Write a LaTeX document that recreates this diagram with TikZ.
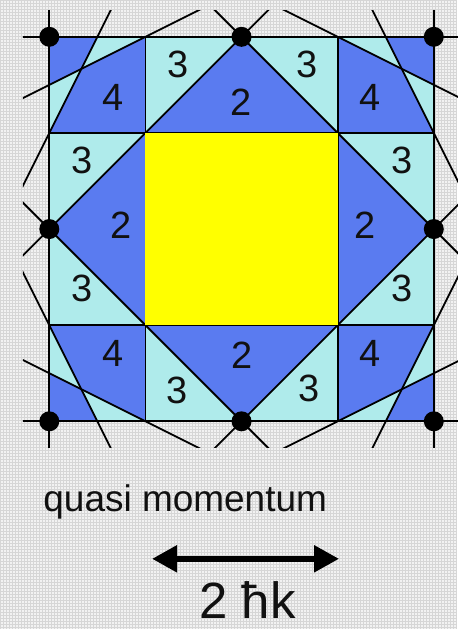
\documentclass[tikz,border=0pt]{standalone}
\usepackage{fontspec}
\setmainfont{Liberation Sans}
\usetikzlibrary{arrows.meta}
\definecolor{zblue}{RGB}{90,123,240}
\definecolor{zcyan}{RGB}{175,235,235}
\definecolor{zyellow}{RGB}{255,255,0}
\definecolor{bgfill}{RGB}{242,242,242}
\definecolor{bggrid}{RGB}{214,214,214}
\definecolor{txt}{RGB}{17,17,17}
\begin{document}
\begin{tikzpicture}[x=1pt,y=-1pt,
  lbl/.style={font=\fontsize{38}{40}\selectfont, inner sep=0pt, text=txt},
  zline/.style={line width=1.8pt, black},
  zdot/.style={fill=black}]
\fill[bgfill] (0,0) rectangle (457,629);
\draw[bggrid, line width=0.5pt] (0,0) grid[step=3pt] (457,629);
\useasboundingbox (0,0) rectangle (457,629);

\begin{scope}[shift={(241.5pt,-229pt)}, x=96.2pt, y=96.2pt]
  \fill[zblue] (-2,-2) rectangle (2,2);
  \fill[zcyan] (-1,-2) rectangle (1,2);
  \fill[zcyan] (-2,-1) rectangle (2,1);
  \fill[zblue] (-2,0) -- (0,2) -- (2,0) -- (0,-2) -- cycle;
  \foreach \sx/\sy in {-1/-1,-1/1,1/-1,1/1}{
    \fill[zcyan] ({2*\sx},{\sy}) -- ({2*\sx},{1.5*\sy}) -- ({5/3*\sx},{5/3*\sy}) -- cycle;
    \fill[zcyan] ({1.5*\sx},{2*\sy}) -- ({\sx},{2*\sy}) -- ({5/3*\sx},{5/3*\sy}) -- cycle;
  }
  \draw[zline] (-1,-2) -- (-1,2);
  \draw[zline] (1,-2) -- (1,2);
  \draw[zline] (-2,-1) -- (2,-1);
  \draw[zline] (-2,1) -- (2,1);
  \begin{scope}
    \clip (-2.275,-2.275) rectangle (2.3,2.275);
    \draw[zline] (-2,-3) -- (-2,3);
    \draw[zline] (2,-3) -- (2,3);
    \draw[zline] (-3,-2) -- (3,-2);
    \draw[zline] (-3,2) -- (3,2);
    \draw[zline] (-3,-1) -- (1,3);
    \draw[zline] (-1,-3) -- (3,1);
    \draw[zline] (-1,3) -- (3,-1);
    \draw[zline] (-3,1) -- (1,-3);
    \draw[zline] (-2.5,0) -- (-1,3);
    \draw[zline] (2.5,0) -- (1,3);
    \draw[zline] (-2.5,0) -- (-1,-3);
    \draw[zline] (2.5,0) -- (1,-3);
    \draw[zline] (0,2.5) -- (-3,1);
    \draw[zline] (0,2.5) -- (3,1);
    \draw[zline] (0,-2.5) -- (-3,-1);
    \draw[zline] (0,-2.5) -- (3,-1);
  \end{scope}
  \fill[zyellow] (-1,-1) rectangle (1,1);
  \foreach \px/\py in {-2/2,0/2,2/2,-2/0,2/0,-2/-2,0/-2,2/-2}{
    \fill[zdot] (\px,\py) circle (10pt);
  }
\end{scope}

\node[lbl] (l1) at (178,64) {3};
\node[lbl] (l2) at (307,64) {3};
\node[lbl] (l3) at (113,97) {4};
\node[lbl] (l4) at (370,97) {4};
\node[lbl] (l5) at (241,102) {2};
\node[lbl] (l6) at (82,160) {3};
\node[lbl] (l7) at (402,160) {3};
\node[lbl] (l8) at (121,225) {2};
\node[lbl] (l9) at (365,225) {2};
\node[lbl] (l10) at (82,288) {3};
\node[lbl] (l11) at (402,288) {3};
\node[lbl] (l12) at (113,353) {4};
\node[lbl] (l13) at (370,353) {4};
\node[lbl] (l14) at (242,355) {2};
\node[lbl] (l15) at (177,390) {3};
\node[lbl] (l16) at (309,388) {3};

\node[anchor=base west, font=\fontsize{37}{40}\selectfont, inner sep=0pt, text=txt] (qm) at (43,512) {quasi momentum};
\coordinate (aL) at (152,559);
\coordinate (aR) at (339,559);
\draw[line width=5.5pt, black, {Triangle[length=25pt,width=26pt]}-{Triangle[length=25pt,width=26pt]}] (aL) -- (aR);
\node[anchor=base, font=\fontsize{51}{54}\selectfont, inner sep=0pt, text=txt] (hk) at (247.5,619) {2 ħk};
\end{tikzpicture}
\end{document}
